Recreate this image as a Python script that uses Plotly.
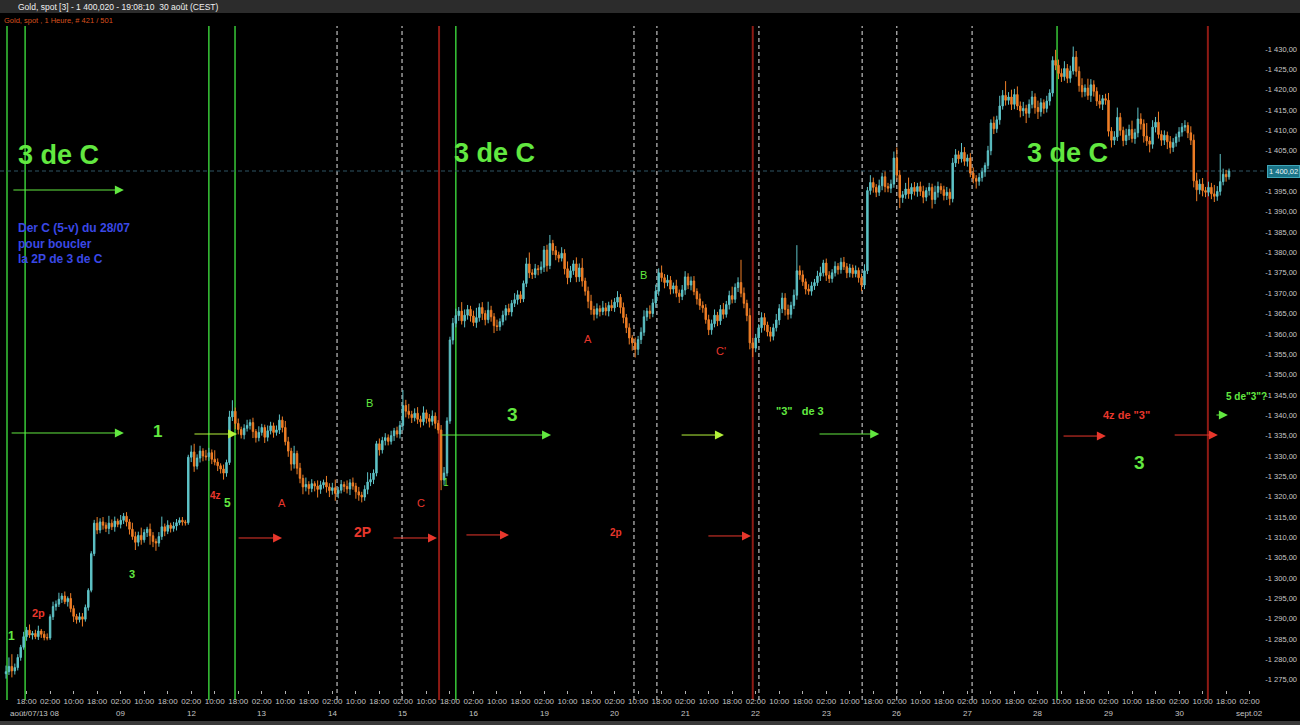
import plotly.graph_objects as go
import pandas as pd

# ---------------- data ----------------
first_open = 1276.5
price_now = 1400.02

close = [
    1277.0, 1278.3, 1277.2, 1278.0, 1280.5, 1283.0, 1285.6, 1287.2, 1286.0, 1286.4,
    1285.6, 1287.0, 1286.2, 1285.4, 1285.3, 1290.5, 1293.0, 1293.6, 1294.8, 1295.6,
    1294.2, 1295.0, 1292.5, 1290.6, 1289.8, 1290.5, 1289.9, 1292.8, 1297.0, 1306.0,
    1313.5, 1311.8, 1313.8, 1313.0, 1312.2, 1313.5, 1312.6, 1314.0, 1313.2, 1314.2,
    1315.2, 1313.8, 1312.0, 1310.2, 1308.8, 1310.5, 1309.4, 1311.2, 1312.0, 1310.4,
    1309.0, 1308.6, 1310.2, 1312.6, 1311.5, 1313.0, 1312.2, 1312.8, 1313.6, 1314.2,
    1313.8, 1313.6, 1329.7, 1331.0, 1327.5, 1329.5, 1331.2, 1330.0, 1329.8, 1330.8,
    1329.2, 1328.5, 1327.6, 1326.8, 1325.8, 1328.4, 1339.6, 1341.0, 1338.0, 1336.5,
    1335.2, 1336.8, 1337.5, 1338.2, 1336.0, 1334.5, 1335.8, 1337.0, 1334.6, 1336.2,
    1337.4, 1335.8, 1336.4, 1338.8, 1337.0, 1333.5, 1331.2, 1328.0, 1330.6, 1327.0,
    1324.5, 1322.4, 1323.0, 1322.0, 1323.2, 1322.6, 1321.8, 1322.9, 1323.5, 1322.4,
    1321.5, 1322.2, 1320.8, 1321.6, 1323.0, 1322.5, 1321.9, 1323.4, 1322.6, 1321.2,
    1320.4, 1319.9, 1321.8, 1323.6, 1324.2, 1325.8, 1333.0, 1331.5, 1333.8, 1334.5,
    1333.6, 1335.0, 1336.2, 1335.4, 1337.5, 1342.4, 1341.0, 1340.2, 1339.4, 1340.5,
    1339.0, 1338.4, 1340.6, 1339.2, 1338.5, 1339.8, 1338.0, 1336.4, 1324.1, 1325.8,
    1338.6, 1358.5, 1362.6, 1364.5, 1365.6, 1363.2, 1364.6, 1366.0, 1364.4, 1362.8,
    1364.0, 1366.5, 1365.0, 1363.5, 1365.8, 1364.2, 1362.0, 1361.8, 1363.0, 1364.6,
    1366.2, 1365.4, 1367.5, 1368.4, 1369.6, 1368.6, 1372.4, 1377.2, 1375.0, 1374.6,
    1376.0, 1375.8, 1376.4, 1380.6, 1376.8, 1382.2, 1380.5, 1379.4, 1378.6, 1379.8,
    1376.0, 1373.8, 1375.5, 1377.2, 1374.0, 1376.2, 1373.0, 1370.5, 1368.0, 1366.0,
    1364.8, 1366.2, 1365.5, 1366.4, 1365.6, 1367.0, 1366.4, 1367.8, 1369.0, 1366.5,
    1364.0, 1361.5, 1359.0, 1357.8, 1356.2, 1358.6, 1360.4, 1364.2, 1365.6, 1365.0,
    1367.6, 1370.5, 1375.0, 1373.8, 1372.6, 1373.2, 1371.0, 1371.8, 1370.0, 1369.2,
    1370.8, 1374.0, 1372.0, 1373.0, 1370.4, 1368.6, 1367.0, 1366.4, 1363.5, 1361.0,
    1362.5, 1364.6, 1363.2, 1366.0, 1364.8, 1367.2, 1369.4, 1368.5, 1371.4, 1372.6,
    1370.0, 1367.5, 1364.5, 1357.8, 1356.5, 1359.0, 1361.5, 1364.0, 1362.2, 1360.5,
    1359.4, 1361.5, 1363.4, 1366.2, 1368.8, 1366.0, 1364.8, 1367.0, 1369.5, 1375.5,
    1374.5, 1372.8, 1371.0, 1370.5, 1371.8, 1372.6, 1374.2, 1375.0, 1377.4, 1374.4,
    1373.6, 1375.0, 1376.6, 1375.8, 1377.6, 1376.5, 1375.0, 1376.2, 1374.8, 1375.6,
    1373.8, 1372.0, 1375.5, 1395.2, 1397.2, 1396.0, 1394.8, 1396.4, 1398.6, 1396.2,
    1395.8, 1396.8, 1403.2, 1399.0, 1393.5, 1394.2, 1395.6, 1394.4, 1396.0, 1395.0,
    1396.2, 1395.0, 1393.6, 1395.2, 1396.0, 1393.0, 1394.8, 1396.2, 1395.4, 1394.0,
    1394.8, 1393.2, 1402.0, 1404.0, 1403.0, 1404.6, 1402.4, 1403.2, 1399.5, 1398.2,
    1397.5, 1398.4, 1399.8, 1401.4, 1405.0, 1411.8, 1410.4, 1412.6, 1416.0, 1418.6,
    1417.4, 1418.2, 1416.4, 1418.8, 1416.0, 1414.8, 1415.4, 1414.2, 1416.4, 1418.2,
    1415.6, 1414.6, 1416.8, 1415.4, 1417.2, 1419.2, 1427.2, 1426.0, 1424.0, 1423.2,
    1425.2, 1422.8, 1424.6, 1428.0, 1424.5, 1421.0, 1419.5, 1420.4, 1418.6, 1421.2,
    1419.6, 1417.2, 1416.4, 1417.8, 1417.4, 1409.8, 1407.6, 1408.4, 1413.2, 1410.0,
    1407.5, 1408.8, 1410.2, 1408.0, 1409.4, 1412.8, 1411.6, 1408.6, 1407.4, 1406.6,
    1410.8, 1412.0, 1409.0, 1407.6, 1408.8, 1407.2, 1405.8, 1407.0, 1408.4, 1409.6,
    1410.8, 1411.2, 1409.4, 1407.6, 1397.6, 1395.4, 1396.8, 1395.2, 1394.8, 1396.0,
    1394.4, 1393.8, 1395.0, 1397.4, 1399.2, 1398.6, 1400.02,
]

# upper / lower shadow lengths (dollars) above max(open,close) / below min(open,close)
wick_up = [
    1.5, 2.2, 3.0, 1.0, 0.8, 0.6, 1.2, 0.8, 1.4, 0.6, 0.9, 1.3, 0.5, 0.8, 1.0, 0.6, 1.2, 0.9, 1.6, 0.7,
    1.1, 0.5, 1.3, 0.8, 0.6, 1.0, 0.9, 0.7, 0.5, 0.6, 0.8, 1.5, 0.9, 1.2, 0.7, 1.8, 0.9, 1.1, 0.6, 1.3,
    0.8, 1.0, 0.7, 1.6, 1.2, 0.9, 1.9, 0.8, 0.6, 1.4, 0.9, 0.7, 1.1, 2.5, 0.8, 1.2, 0.6, 1.0, 0.9, 0.7,
    0.8, 0.5, 0.6, 1.6, 2.0, 0.9, 1.3, 0.7, 1.5, 1.2, 0.8, 2.2, 0.9, 0.6, 1.1, 0.7, 1.5, 2.7, 0.9, 1.2,
    0.7, 1.0, 1.4, 0.8, 1.2, 0.6, 1.5, 0.9, 0.7, 1.3, 1.0, 0.8, 1.1, 1.4, 0.9, 1.6, 1.2, 0.8, 1.9, 0.7,
    1.3, 0.9, 1.7, 0.8, 1.1, 0.6, 1.4, 1.0, 0.7, 1.6, 0.9, 1.2, 2.0, 0.8, 1.1, 0.7, 1.5, 0.9, 1.3, 0.8,
    1.2, 0.8, 1.0, 2.4, 1.6, 0.9, 0.7, 1.3, 0.9, 1.1, 0.8, 1.2, 0.7, 1.0, 1.1, 3.8, 1.4, 1.8, 0.9, 1.2,
    1.5, 0.9, 1.6, 0.8, 1.1, 1.4, 0.9, 0.8, 1.2, 1.5, 0.9, 0.8, 1.3, 1.7, 1.0, 2.2, 1.4, 1.1, 0.9, 1.3,
    2.4, 1.0, 1.3, 0.8, 2.1, 1.1, 0.9, 1.5, 0.8, 1.1, 0.9, 1.2, 0.8, 1.6, 1.1, 0.9, 0.7, 1.5, 2.8, 0.9,
    1.2, 0.9, 1.4, 1.0, 1.3, 2.1, 0.9, 1.1, 0.8, 1.5, 1.0, 1.8, 1.2, 0.9, 1.6, 1.1, 2.4, 0.8, 1.1, 1.6,
    0.9, 1.3, 0.8, 1.7, 1.2, 0.9, 1.4, 1.0, 1.5, 0.8, 1.2, 0.9, 1.1, 0.7, 1.3, 0.9, 1.2, 1.6, 0.8, 1.4,
    1.0, 1.6, 1.1, 1.8, 0.9, 1.3, 1.0, 0.8, 1.5, 0.9, 1.2, 1.4, 0.9, 1.1, 1.2, 0.8, 1.3, 1.0, 0.9, 1.2,
    1.0, 1.4, 0.8, 1.1, 1.6, 0.9, 1.2, 2.2, 1.0, 1.3, 5.6, 1.4, 0.9, 1.8, 1.2, 1.0, 0.9, 1.3, 1.1, 0.8,
    1.2, 1.0, 1.5, 1.1, 1.3, 1.2, 1.2, 0.9, 1.4, 6.3, 1.3, 1.1, 0.8, 1.2, 1.0, 0.9, 1.3, 1.5, 0.8, 1.1,
    1.0, 0.9, 1.2, 0.8, 1.1, 1.3, 0.9, 1.0, 0.8, 1.2, 0.7, 1.0, 1.6, 0.9, 1.8, 1.2, 0.8, 1.5, 1.0, 1.3,
    0.9, 1.1, 1.6, 2.6, 1.2, 0.9, 1.5, 2.8, 1.0, 1.3, 0.9, 1.2, 1.4, 0.8, 1.1, 0.9, 1.6, 1.2, 0.8, 1.0,
    1.3, 0.9, 1.2, 1.4, 1.0, 2.3, 1.3, 0.9, 1.2, 1.4, 0.8, 1.1, 1.0, 0.7, 1.2, 0.9, 1.6, 1.0, 2.5, 1.3,
    3.5, 1.2, 1.8, 1.4, 2.0, 1.1, 1.6, 0.9, 1.2, 1.5, 0.9, 1.7, 1.1, 0.8, 1.3, 0.9, 1.0, 2.6, 1.4, 1.2,
    1.8, 1.1, 1.3, 2.6, 1.5, 1.2, 1.8, 0.9, 2.3, 1.4, 1.1, 1.0, 1.6, 0.9, 1.2, 1.8, 1.0, 1.4, 2.4, 1.1,
    0.9, 1.6, 1.2, 2.2, 1.0, 2.8, 1.4, 1.1, 3.2, 1.0, 1.7, 1.3, 2.6, 1.0, 1.2, 0.9, 1.4, 1.1, 0.8, 1.2,
    1.0, 1.3, 0.8, 1.6, 1.4, 2.0, 1.2, 1.5, 0.9, 1.4, 1.1, 2.2, 1.3, 6.8, 1.4, 1.1, 0.6,
]
wick_dn = [
    1.2, 0.8, 1.6, 0.9, 0.7, 0.8, 0.6, 1.0, 0.7, 1.1, 0.6, 0.8, 0.9, 0.7, 0.6, 0.5, 0.8, 1.0, 0.7, 0.9,
    0.6, 1.2, 0.9, 1.4, 1.0, 0.7, 1.8, 0.6, 0.8, 0.5, 0.6, 1.0, 0.8, 1.1, 0.9, 1.4, 0.8, 1.2, 0.7, 1.0,
    0.9, 1.1, 1.3, 0.8, 1.9, 1.0, 1.2, 0.7, 1.1, 2.2, 1.4, 1.9, 0.9, 0.8, 1.2, 0.7, 1.0, 0.8, 1.1, 0.6,
    0.9, 0.7, 0.5, 1.2, 1.4, 0.8, 1.1, 1.3, 0.9, 1.0, 1.2, 0.8, 1.3, 1.1, 1.6, 0.9, 0.6, 1.0, 1.4, 1.2,
    0.9, 1.1, 0.8, 1.0, 1.6, 1.2, 0.9, 0.8, 1.4, 1.0, 0.9, 1.3, 0.8, 1.0, 1.2, 0.9, 1.4, 1.6, 1.1, 1.5,
    1.2, 1.8, 1.1, 1.5, 0.9, 1.3, 2.0, 1.1, 0.9, 1.4, 1.6, 1.0, 1.8, 1.2, 0.8, 1.3, 1.1, 1.5, 0.9, 1.7,
    1.4, 1.3, 0.9, 1.2, 1.0, 1.1, 0.8, 1.4, 0.9, 1.2, 1.0, 0.8, 1.3, 0.9, 1.1, 1.2, 1.5, 1.0, 1.3, 0.9,
    1.1, 1.4, 0.9, 1.2, 1.5, 1.0, 1.3, 0.9, 2.5, 1.2, 0.8, 0.7, 1.1, 1.0, 1.3, 0.9, 1.6, 1.1, 1.4, 0.9,
    1.3, 1.0, 1.6, 1.4, 0.9, 1.2, 1.8, 1.1, 1.0, 0.9, 1.3, 0.8, 1.1, 0.9, 1.2, 1.0, 0.8, 0.9, 1.3, 1.1,
    0.9, 1.4, 1.0, 1.2, 1.5, 0.9, 1.1, 1.3, 1.0, 0.8, 1.4, 1.6, 1.1, 1.0, 1.3, 1.2, 1.4, 1.1, 1.7, 1.3,
    1.5, 1.0, 1.2, 0.9, 1.1, 1.3, 0.8, 1.0, 1.2, 1.5, 1.4, 1.3, 1.6, 1.9, 2.0, 1.4, 1.1, 0.9, 1.0, 1.3,
    0.9, 1.2, 1.1, 1.0, 1.4, 0.9, 1.3, 1.1, 1.0, 1.6, 0.9, 1.2, 1.0, 1.3, 0.9, 1.4, 1.1, 1.2, 1.0, 1.3,
    1.2, 0.9, 1.3, 1.0, 1.1, 0.8, 1.2, 1.0, 0.9, 1.1, 1.0, 1.2, 1.4, 1.6, 2.2, 1.0, 0.9, 1.2, 1.4, 1.1,
    1.3, 1.0, 0.9, 1.2, 1.1, 1.5, 1.3, 1.0, 0.9, 1.1, 1.2, 1.0, 1.3, 0.9, 1.1, 1.0, 0.8, 1.2, 0.9, 1.4,
    1.1, 1.0, 0.9, 1.2, 1.0, 0.8, 1.3, 1.1, 1.0, 0.9, 1.2, 1.5, 1.0, 0.8, 1.0, 1.3, 1.2, 0.9, 1.1, 1.4,
    1.0, 1.2, 0.9, 1.1, 2.6, 1.3, 1.0, 1.2, 1.4, 1.0, 1.3, 1.1, 1.5, 1.0, 1.2, 2.2, 1.1, 1.3, 1.0, 1.2,
    1.1, 1.6, 0.9, 1.0, 1.2, 0.9, 1.1, 1.3, 1.0, 1.2, 1.8, 1.1, 1.0, 1.2, 0.9, 1.1, 1.3, 1.0, 1.2, 0.9,
    1.3, 1.1, 1.4, 1.2, 1.0, 1.6, 1.3, 2.4, 1.1, 1.0, 1.5, 1.8, 1.2, 1.3, 1.0, 1.1, 0.9, 1.2, 1.4, 1.3,
    1.0, 1.2, 1.1, 0.9, 1.3, 1.5, 1.4, 1.2, 1.1, 1.6, 1.3, 1.2, 1.0, 1.4, 1.1, 1.3, 1.8, 1.2, 1.0, 1.3,
    1.4, 1.1, 1.2, 1.0, 1.3, 1.1, 1.4, 1.6, 1.2, 2.0, 1.1, 1.3, 1.0, 1.4, 1.2, 1.8, 1.5, 1.1, 1.0, 1.2,
    1.1, 1.0, 1.3, 1.2, 1.6, 2.8, 1.1, 1.4, 1.2, 1.0, 1.3, 1.4, 1.1, 1.0, 0.9, 1.2, 0.7,
]

# vertical markers (bar positions)
green_lines = [0.34, 6.5, 69.0, 77.9, 153.0, 357.5]
red_lines = [147.3, 254.0, 408.8]
dashed_lines = [112.6, 134.7, 213.6, 221.4, 256.1, 291.2, 303.0, 328.6]

y_ticks = [v for v in range(1275, 1431, 5) if v != 1400]

# ---------------- derived ----------------
opens = [first_open] + close[:-1]
highs = [max(o, c) + u for o, c, u in zip(opens, close, wick_up)]
lows = [min(o, c) - d for o, c, d in zip(opens, close, wick_dn)]
xs = list(range(len(close)))

# hourly bar timeline (market closed Fri 23:00 -> Sun 22:59)
bar_times = []
t = pd.Timestamp("2013-08-07 11:00")
end = pd.Timestamp("2013-09-02 06:00")
while t <= end:
    wd = t.weekday()
    closed = (wd == 4 and t.hour >= 23) or wd == 5 or (wd == 6 and t.hour < 23)
    if not closed:
        bar_times.append(t)
    t += pd.Timedelta(hours=1)

tickvals, ticktext, day_ticks = [], [], []
for k, bt in enumerate(bar_times):
    if bt.hour in (2, 10, 18):
        tickvals.append(k)
        ticktext.append("%02d:00" % bt.hour)
        if bt.hour == 2:
            day_ticks.append((k, bt))


def fr(v):
    s = f"{v:,.2f}"
    return s.replace(",", " ").replace(".", ",")


# ---------------- figure ----------------
W, H = 1300, 725
T, B = 26, 35
PH = H - T - B
PX = 2.94          # pixels per bar
X0 = 6             # pixel of first bar
PPD = 4.07         # pixels per dollar
Y_NOW = 171        # pixel of price_now

x_range = [-X0 / PX, (W - X0) / PX]
y_range = [price_now - (H - B - Y_NOW) / PPD, price_now + (Y_NOW - T) / PPD]


def py(pix):
    return (H - B - pix) / PH


FONT = "Liberation Sans, Arial, sans-serif"
TEAL = "#5ec3c7"
ORANGE = "#ef7e26"
GT = "#62e840"
RT = "#e8372c"
YG = "#b4f23a"
GL = "#38c838"
RL = "#8e1a14"

fig = go.Figure()
fig.add_trace(go.Candlestick(
    x=xs, open=opens, high=highs, low=lows, close=close,
    increasing=dict(line=dict(color=TEAL, width=1), fillcolor=TEAL),
    decreasing=dict(line=dict(color=ORANGE, width=1), fillcolor=ORANGE),
    whiskerwidth=0, showlegend=False, hoverinfo="skip",
))

shapes = []
# header strip
shapes.append(dict(type="rect", xref="paper", yref="paper", x0=0, x1=1,
                   y0=py(13), y1=py(0), fillcolor="#2c2c2c", line=dict(width=0), layer="below"))
shapes.append(dict(type="rect", xref="paper", yref="paper", x0=0, x1=1,
                   y0=py(H), y1=py(H - 4), fillcolor="#3a3a3a", line=dict(width=0), layer="below"))
for v in dashed_lines:
    shapes.append(dict(type="line", xref="x", yref="paper", x0=v, x1=v, y0=py(700), y1=1,
                       line=dict(color="#e6e6e6", width=1, dash="4px,3px"), layer="below"))
for v in green_lines:
    shapes.append(dict(type="line", xref="x", yref="paper", x0=v, x1=v, y0=py(700), y1=1,
                       line=dict(color=GL, width=1.5), layer="below"))
for v in red_lines:
    shapes.append(dict(type="line", xref="x", yref="paper", x0=v, x1=v, y0=py(700), y1=1,
                       line=dict(color=RL, width=2), layer="below"))
# current price dashed line
shapes.append(dict(type="line", xref="paper", yref="y", x0=0, x1=1268 / W, y0=price_now, y1=price_now,
                   line=dict(color="#2e5565", width=1, dash="4px,3px"), layer="below"))

ann = []
# header texts
ann.append(dict(text="Gold, spot [3] - 1 400,020 - 19:08:10  30 août (CEST)", xref="paper", yref="paper",
                x=16 / W, y=py(7), xanchor="left", yanchor="middle", showarrow=False,
                font=dict(family=FONT, size=8.5, color="#f0f0f0")))
ann.append(dict(text="Gold, spot , 1 Heure, # 421 / 501", xref="paper", yref="paper",
                x=2 / W, y=py(20), xanchor="left", yanchor="middle", showarrow=False,
                font=dict(family=FONT, size=7.5, color="#d8501e")))
# price box
ann.append(dict(text=fr(price_now), xref="paper", yref="y", x=1.0, y=price_now, xanchor="right",
                yanchor="middle", showarrow=False, bgcolor="#1b7488", bordercolor="#3fa6b8",
                borderwidth=1, borderpad=1, font=dict(family=FONT, size=7.5, color="#e6f6f6")))
# day labels
for k, bt in day_ticks:
    if k == day_ticks[0][0]:
        ann.append(dict(text="août/07/13 08", xref="paper", yref="paper", x=8 / W, y=py(713),
                        xanchor="left", yanchor="middle", showarrow=False,
                        font=dict(family=FONT, size=8, color="#c4c4c4")))
        continue
    label = "sept.02" if bt.month == 9 else "%02d" % bt.day
    ann.append(dict(text=label, xref="x", yref="paper", x=k, y=py(713), xanchor="center",
                    yanchor="middle", showarrow=False, font=dict(family=FONT, size=8, color="#c4c4c4")))

# arrows: (tail bar, head bar, price, colour)
arrows = [
    (2.0, 40.1, 1395.35, GT), (1.4, 40.1, 1335.65, GT), (63.6, 78.6, 1335.4, YG),
    (147.6, 185.4, 1335.15, GT), (229.3, 244.2, 1335.15, YG), (276.2, 297.0, 1335.4, GT),
    (411.2, 415.6, 1340.07, GT),
    (78.6, 93.9, 1309.85, RT), (131.3, 146.6, 1309.85, RT), (156.1, 171.1, 1310.6, RT),
    (238.4, 253.4, 1310.35, RT), (359.2, 374.1, 1334.9, RT), (397.0, 412.2, 1335.15, RT),
]
for a0, a1, p, c in arrows:
    ann.append(dict(text="", x=a1, y=p, ax=a0, ay=p, xref="x", yref="y", axref="x", ayref="y",
                    showarrow=True, arrowhead=2, arrowsize=1.8, arrowwidth=1, arrowcolor=c, standoff=0))

# labels: (text, bar, price, colour, size, bold)
labels = [
    ("3 de C", 18.0, 1403.95, GT, 27, True),
    ("3 de C", 166.0, 1404.4, GT, 27, True),
    ("3 de C", 361.2, 1404.4, GT, 27, True),
    ("1", 51.4, 1335.9, GT, 17, True),
    ("3", 172.4, 1340.3, GT, 19, True),
    ('"3"\u00a0\u00a0 de 3', 270.0, 1341.05, GT, 11, True),
    ('4z de "3"', 381.0, 1340.07, RT, 11, True),
    ("3", 385.7, 1328.5, GT, 19, True),
    ('5 de"3"?', 422.1, 1344.5, GT, 10, True),
    ("2p", 10.9, 1291.4, RT, 11, True),
    ("4z", 71.4, 1320.4, RT, 10, True),
    ("A", 93.9, 1318.4, RT, 11, False),
    ("2P", 121.1, 1311.3, RT, 14, True),
    ("C", 141.2, 1318.4, RT, 11, False),
    ("2p", 207.5, 1311.1, RT, 10, True),
    ("A", 198.0, 1358.7, RT, 11, False),
    ("C'", 243.2, 1355.8, RT, 11, False),
    ("1", 2.0, 1285.8, GT, 12, True),
    ("3", 42.9, 1301.0, GT, 11, True),
    ("5", 75.5, 1318.4, GT, 12, True),
    ("B", 123.8, 1343.0, GT, 11, False),
    ("1", 149.7, 1323.6, GT, 10, False),
    ("B", 216.7, 1374.5, GT, 11, False),
]
for txt, bx, p, c, s, b in labels:
    ann.append(dict(text=("<b>%s</b>" % txt) if b else txt, x=bx, y=p, xref="x", yref="y",
                    showarrow=False, xanchor="center", yanchor="middle",
                    font=dict(family=FONT, size=s, color=c)))

ann.append(dict(text="<b>Der C (5-v) du 28/07<br>pour boucler<br>la 2P de 3 de C</b>", x=3.4, y=1382.33,
                xref="x", yref="y", showarrow=False, xanchor="left", yanchor="middle", align="left",
                font=dict(family=FONT, size=12, color="#3a48e6")))

fig.update_layout(
    width=W, height=H, autosize=False,
    margin=dict(l=0, r=0, t=T, b=B, pad=0),
    paper_bgcolor="#000000", plot_bgcolor="#000000",
    showlegend=False, shapes=shapes, annotations=ann,
    xaxis=dict(range=x_range, rangeslider=dict(visible=False), showgrid=False, zeroline=False,
               showline=False, tickmode="array", tickvals=tickvals, ticktext=ticktext,
               ticks="outside", ticklen=3, tickcolor="#b0b0b0",
               tickfont=dict(family=FONT, size=8, color="#c4c4c4")),
    yaxis=dict(range=y_range, side="right", showgrid=False, zeroline=False, showline=False,
               tickmode="array", tickvals=y_ticks, ticktext=["-" + fr(v) for v in y_ticks],
               ticklabelposition="inside", ticks="",
               tickfont=dict(family=FONT, size=7.5, color="#c8c8c8")),
)

fig.write_html("out.html", config={"displayModeBar": False},
               post_script="document.body.style.margin='0';")
